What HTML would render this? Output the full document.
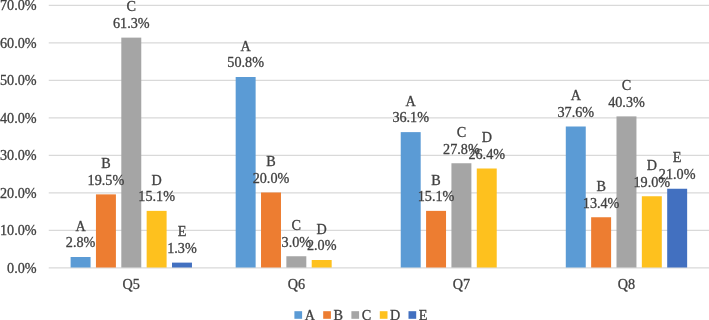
<!DOCTYPE html><html><head><meta charset="utf-8"><title>Chart</title><style>html,body{margin:0;padding:0;background:#fff;}svg{display:block;}</style></head><body><svg xmlns="http://www.w3.org/2000/svg" width="709" height="320" viewBox="0 0 709 320" font-family="'Liberation Serif', 'Times New Roman', serif" font-size="14.2px" fill="#404040" stroke="#404040" stroke-width="0.3">
<rect width="709" height="320" fill="#fff" stroke="none"/>
<line x1="48.75" x2="709.0" y1="267.8" y2="267.8" stroke="#D9D9D9" stroke-width="1.15"/>
<text x="36.6" y="272.90" text-anchor="end">0.0%</text>
<line x1="48.75" x2="709.0" y1="230.3" y2="230.3" stroke="#D9D9D9" stroke-width="1.15"/>
<text x="36.6" y="235.40" text-anchor="end">10.0%</text>
<line x1="48.75" x2="709.0" y1="192.8" y2="192.8" stroke="#D9D9D9" stroke-width="1.15"/>
<text x="36.6" y="197.90" text-anchor="end">20.0%</text>
<line x1="48.75" x2="709.0" y1="155.3" y2="155.3" stroke="#D9D9D9" stroke-width="1.15"/>
<text x="36.6" y="160.40" text-anchor="end">30.0%</text>
<line x1="48.75" x2="709.0" y1="117.8" y2="117.8" stroke="#D9D9D9" stroke-width="1.15"/>
<text x="36.6" y="122.90" text-anchor="end">40.0%</text>
<line x1="48.75" x2="709.0" y1="80.3" y2="80.3" stroke="#D9D9D9" stroke-width="1.15"/>
<text x="36.6" y="85.40" text-anchor="end">50.0%</text>
<line x1="48.75" x2="709.0" y1="42.8" y2="42.8" stroke="#D9D9D9" stroke-width="1.15"/>
<text x="36.6" y="47.90" text-anchor="end">60.0%</text>
<line x1="48.75" x2="709.0" y1="5.3" y2="5.3" stroke="#D9D9D9" stroke-width="1.15"/>
<text x="36.6" y="10.40" text-anchor="end">70.0%</text>
<text x="131.28" y="289.1" text-anchor="middle">Q5</text>
<rect x="70.61" y="257.00" width="19.96" height="10.50" fill="#5B9BD5" stroke="none"/>
<rect x="95.95" y="194.38" width="19.96" height="73.12" fill="#ED7D31" stroke="none"/>
<rect x="121.30" y="37.62" width="19.96" height="229.88" fill="#A5A5A5" stroke="none"/>
<rect x="146.65" y="210.88" width="19.96" height="56.62" fill="#FEC11E" stroke="none"/>
<rect x="172.00" y="262.62" width="19.96" height="4.88" fill="#4270C0" stroke="none"/>
<text x="296.34" y="289.1" text-anchor="middle">Q6</text>
<rect x="235.67" y="77.00" width="19.96" height="190.50" fill="#5B9BD5" stroke="none"/>
<rect x="261.02" y="192.50" width="19.96" height="75.00" fill="#ED7D31" stroke="none"/>
<rect x="286.36" y="256.25" width="19.96" height="11.25" fill="#A5A5A5" stroke="none"/>
<rect x="311.71" y="260.00" width="19.96" height="7.50" fill="#FEC11E" stroke="none"/>
<text x="461.41" y="289.1" text-anchor="middle">Q7</text>
<rect x="400.73" y="132.12" width="19.96" height="135.38" fill="#5B9BD5" stroke="none"/>
<rect x="426.08" y="210.88" width="19.96" height="56.62" fill="#ED7D31" stroke="none"/>
<rect x="451.43" y="163.25" width="19.96" height="104.25" fill="#A5A5A5" stroke="none"/>
<rect x="476.77" y="168.50" width="19.96" height="99.00" fill="#FEC11E" stroke="none"/>
<text x="626.47" y="289.1" text-anchor="middle">Q8</text>
<rect x="565.79" y="126.50" width="19.96" height="141.00" fill="#5B9BD5" stroke="none"/>
<rect x="591.14" y="217.25" width="19.96" height="50.25" fill="#ED7D31" stroke="none"/>
<rect x="616.49" y="116.38" width="19.96" height="151.12" fill="#A5A5A5" stroke="none"/>
<rect x="641.84" y="196.25" width="19.96" height="71.25" fill="#FEC11E" stroke="none"/>
<rect x="667.19" y="188.75" width="19.96" height="78.75" fill="#4270C0" stroke="none"/>
<text x="80.58" y="230.70" text-anchor="middle">A</text>
<text x="80.58" y="247.30" text-anchor="middle">2.8%</text>
<text x="105.93" y="168.07" text-anchor="middle">B</text>
<text x="105.93" y="184.68" text-anchor="middle">19.5%</text>
<text x="131.28" y="11.32" text-anchor="middle">C</text>
<text x="131.28" y="27.93" text-anchor="middle">61.3%</text>
<text x="156.63" y="184.57" text-anchor="middle">D</text>
<text x="156.63" y="201.18" text-anchor="middle">15.1%</text>
<text x="181.98" y="236.32" text-anchor="middle">E</text>
<text x="181.98" y="252.93" text-anchor="middle">1.3%</text>
<text x="245.65" y="50.70" text-anchor="middle">A</text>
<text x="245.65" y="67.30" text-anchor="middle">50.8%</text>
<text x="271.00" y="166.20" text-anchor="middle">B</text>
<text x="271.00" y="182.80" text-anchor="middle">20.0%</text>
<text x="296.34" y="229.95" text-anchor="middle">C</text>
<text x="296.34" y="246.55" text-anchor="middle">3.0%</text>
<text x="321.69" y="233.70" text-anchor="middle">D</text>
<text x="321.69" y="250.30" text-anchor="middle">2.0%</text>
<text x="410.71" y="105.83" text-anchor="middle">A</text>
<text x="410.71" y="122.42" text-anchor="middle">36.1%</text>
<text x="436.06" y="184.57" text-anchor="middle">B</text>
<text x="436.06" y="201.18" text-anchor="middle">15.1%</text>
<text x="461.41" y="136.95" text-anchor="middle">C</text>
<text x="461.41" y="153.55" text-anchor="middle">27.8%</text>
<text x="486.75" y="142.20" text-anchor="middle">D</text>
<text x="486.75" y="158.80" text-anchor="middle">26.4%</text>
<text x="575.77" y="100.20" text-anchor="middle">A</text>
<text x="575.77" y="116.80" text-anchor="middle">37.6%</text>
<text x="601.12" y="190.95" text-anchor="middle">B</text>
<text x="601.12" y="207.55" text-anchor="middle">13.4%</text>
<text x="626.47" y="90.08" text-anchor="middle">C</text>
<text x="626.47" y="106.67" text-anchor="middle">40.3%</text>
<text x="651.82" y="169.95" text-anchor="middle">D</text>
<text x="651.82" y="186.55" text-anchor="middle">19.0%</text>
<text x="677.17" y="162.45" text-anchor="middle">E</text>
<text x="677.17" y="179.05" text-anchor="middle">21.0%</text>
<rect x="294.40" y="311.2" width="7.7" height="7.6" fill="#5B9BD5" stroke="none"/>
<text x="304.7" y="320.4">A</text>
<rect x="323.20" y="311.2" width="7.7" height="7.6" fill="#ED7D31" stroke="none"/>
<text x="333.5" y="320.4">B</text>
<rect x="351.40" y="311.2" width="7.7" height="7.6" fill="#A5A5A5" stroke="none"/>
<text x="361.7" y="320.4">C</text>
<rect x="379.80" y="311.2" width="7.7" height="7.6" fill="#FEC11E" stroke="none"/>
<text x="390.09999999999997" y="320.4">D</text>
<rect x="408.50" y="311.2" width="7.7" height="7.6" fill="#4270C0" stroke="none"/>
<text x="418.8" y="320.4">E</text>
</svg></body></html>
